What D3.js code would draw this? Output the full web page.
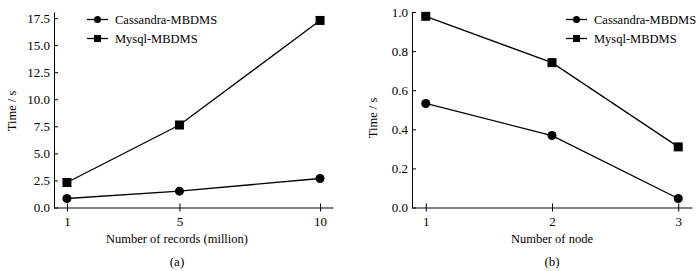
<!doctype html>
<html>
  <head>
    <script src="https://cdn.jsdelivr.net/npm/d3@7"></script>
    <style>
      body { margin: 0; background: #fff; }
      text { font-family: "Liberation Serif", "Times New Roman", serif; fill: #000; }
      .axis path, .axis line { stroke: #000; stroke-width: 1; }
    </style>
  </head>
  <body>
    <div id="chart"></div>
    <script>
      // data
      var seriesNames = ["Cassandra-MBDMS", "Mysql-MBDMS"];

      // panel (a)
      var recordsX = [1, 5, 10];
      var cassandraA = [0.83, 1.51, 2.68];
      var mysqlA = [2.31, 7.62, 17.28];
      var ticksYA = [0, 2.5, 5, 7.5, 10, 12.5, 15, 17.5];

      // panel (b)
      var nodeX = [1, 2, 3];
      var cassandraB = [0.532, 0.368, 0.046];
      var mysqlB = [0.978, 0.741, 0.31];
      var ticksYB = [0, 0.2, 0.4, 0.6, 0.8, 1.0];

      var svg = d3.select("#chart").append("svg")
        .attr("width", 700)
        .attr("height", 271);

      function drawPanel(opt) {
        var g = svg.append("g");

        var x = d3.scaleLinear().domain(opt.xDomain).range([opt.left, opt.right]);
        var y = d3.scaleLinear().domain(opt.yDomain).range([207.5, 12]);

        // x axis, ticks cross the line
        var xa = g.append("g")
          .attr("class", "axis")
          .attr("transform", "translate(0,207.5)")
          .call(d3.axisBottom(x).tickValues(opt.xVals).tickFormat(d3.format("d"))
            .tickSize(4).tickSizeOuter(0).tickPadding(5));
        xa.selectAll(".tick line").attr("y1", -4);
        xa.selectAll("text").style("font-size", "13px");

        // y axis, ticks point inward
        var ya = g.append("g")
          .attr("class", "axis")
          .attr("transform", "translate(" + opt.left + ",0)")
          .call(d3.axisLeft(y).tickValues(opt.yTicks).tickFormat(d3.format(".1f"))
            .tickSize(-4).tickSizeOuter(0).tickPadding(4));
        ya.selectAll("text").attr("x", -4).style("font-size", "13px");

        var line = d3.line()
          .x(function(d, i) { return x(opt.xVals[i]); })
          .y(function(d) { return y(d); });

        [opt.s1, opt.s2].forEach(function(s, k) {
          g.append("path")
            .datum(s)
            .attr("d", line)
            .attr("fill", "none")
            .attr("stroke", "#000")
            .attr("stroke-width", 1.3);
          if (k === 0) {
            g.selectAll(null).data(s).enter().append("circle")
              .attr("cx", function(d, i) { return x(opt.xVals[i]); })
              .attr("cy", function(d) { return y(d); })
              .attr("r", 4.5)
              .attr("fill", "#000");
          } else {
            g.selectAll(null).data(s).enter().append("rect")
              .attr("x", function(d, i) { return x(opt.xVals[i]) - 4.5; })
              .attr("y", function(d) { return y(d) - 4.5; })
              .attr("width", 9)
              .attr("height", 9)
              .attr("fill", "#000");
          }
        });

        // legend
        seriesNames.forEach(function(name, k) {
          var ly = 19.5 + k * 19;
          var lx = opt.legendX;
          g.append("line")
            .attr("x1", lx).attr("x2", lx + 21)
            .attr("y1", ly).attr("y2", ly)
            .attr("stroke", "#000").attr("stroke-width", 1.3);
          if (k === 0) {
            g.append("circle").attr("cx", lx + 10.5).attr("cy", ly).attr("r", 3.5).attr("fill", "#000");
          } else {
            g.append("rect").attr("x", lx + 7).attr("y", ly - 3.5).attr("width", 7).attr("height", 7).attr("fill", "#000");
          }
          g.append("text")
            .attr("x", lx + 28)
            .attr("y", ly + 4.5)
            .style("font-size", "12.5px")
            .text(name);
        });

        // axis titles
        g.append("text")
          .attr("transform", "translate(" + opt.yLabelX + "," + opt.yLabelY + ") rotate(-90)")
          .attr("text-anchor", "middle")
          .style("font-size", "12.5px")
          .text("Time / s");

        g.append("text")
          .attr("x", opt.center)
          .attr("y", 243)
          .attr("text-anchor", "middle")
          .style("font-size", "12.5px")
          .text(opt.xLabel);

        g.append("text")
          .attr("x", opt.center)
          .attr("y", 266)
          .attr("text-anchor", "middle")
          .style("font-size", "13px")
          .text(opt.caption);
      }

      drawPanel({
        left: 54, right: 333,
        xDomain: [0.54, 10.46], yDomain: [0, 18.06],
        xVals: recordsX, yTicks: ticksYA,
        s1: cassandraA, s2: mysqlA,
        legendX: 87, yLabelX: 16, yLabelY: 111,
        center: 177, xLabel: "Number of records (million)", caption: "(a)"
      });

      drawPanel({
        left: 412, right: 692,
        xDomain: [0.891, 3.109], yDomain: [0, 1],
        xVals: nodeX, yTicks: ticksYB,
        s1: cassandraB, s2: mysqlB,
        legendX: 566, yLabelX: 377, yLabelY: 118,
        center: 552, xLabel: "Number of node", caption: "(b)"
      });
    </script>
  </body>
</html>
